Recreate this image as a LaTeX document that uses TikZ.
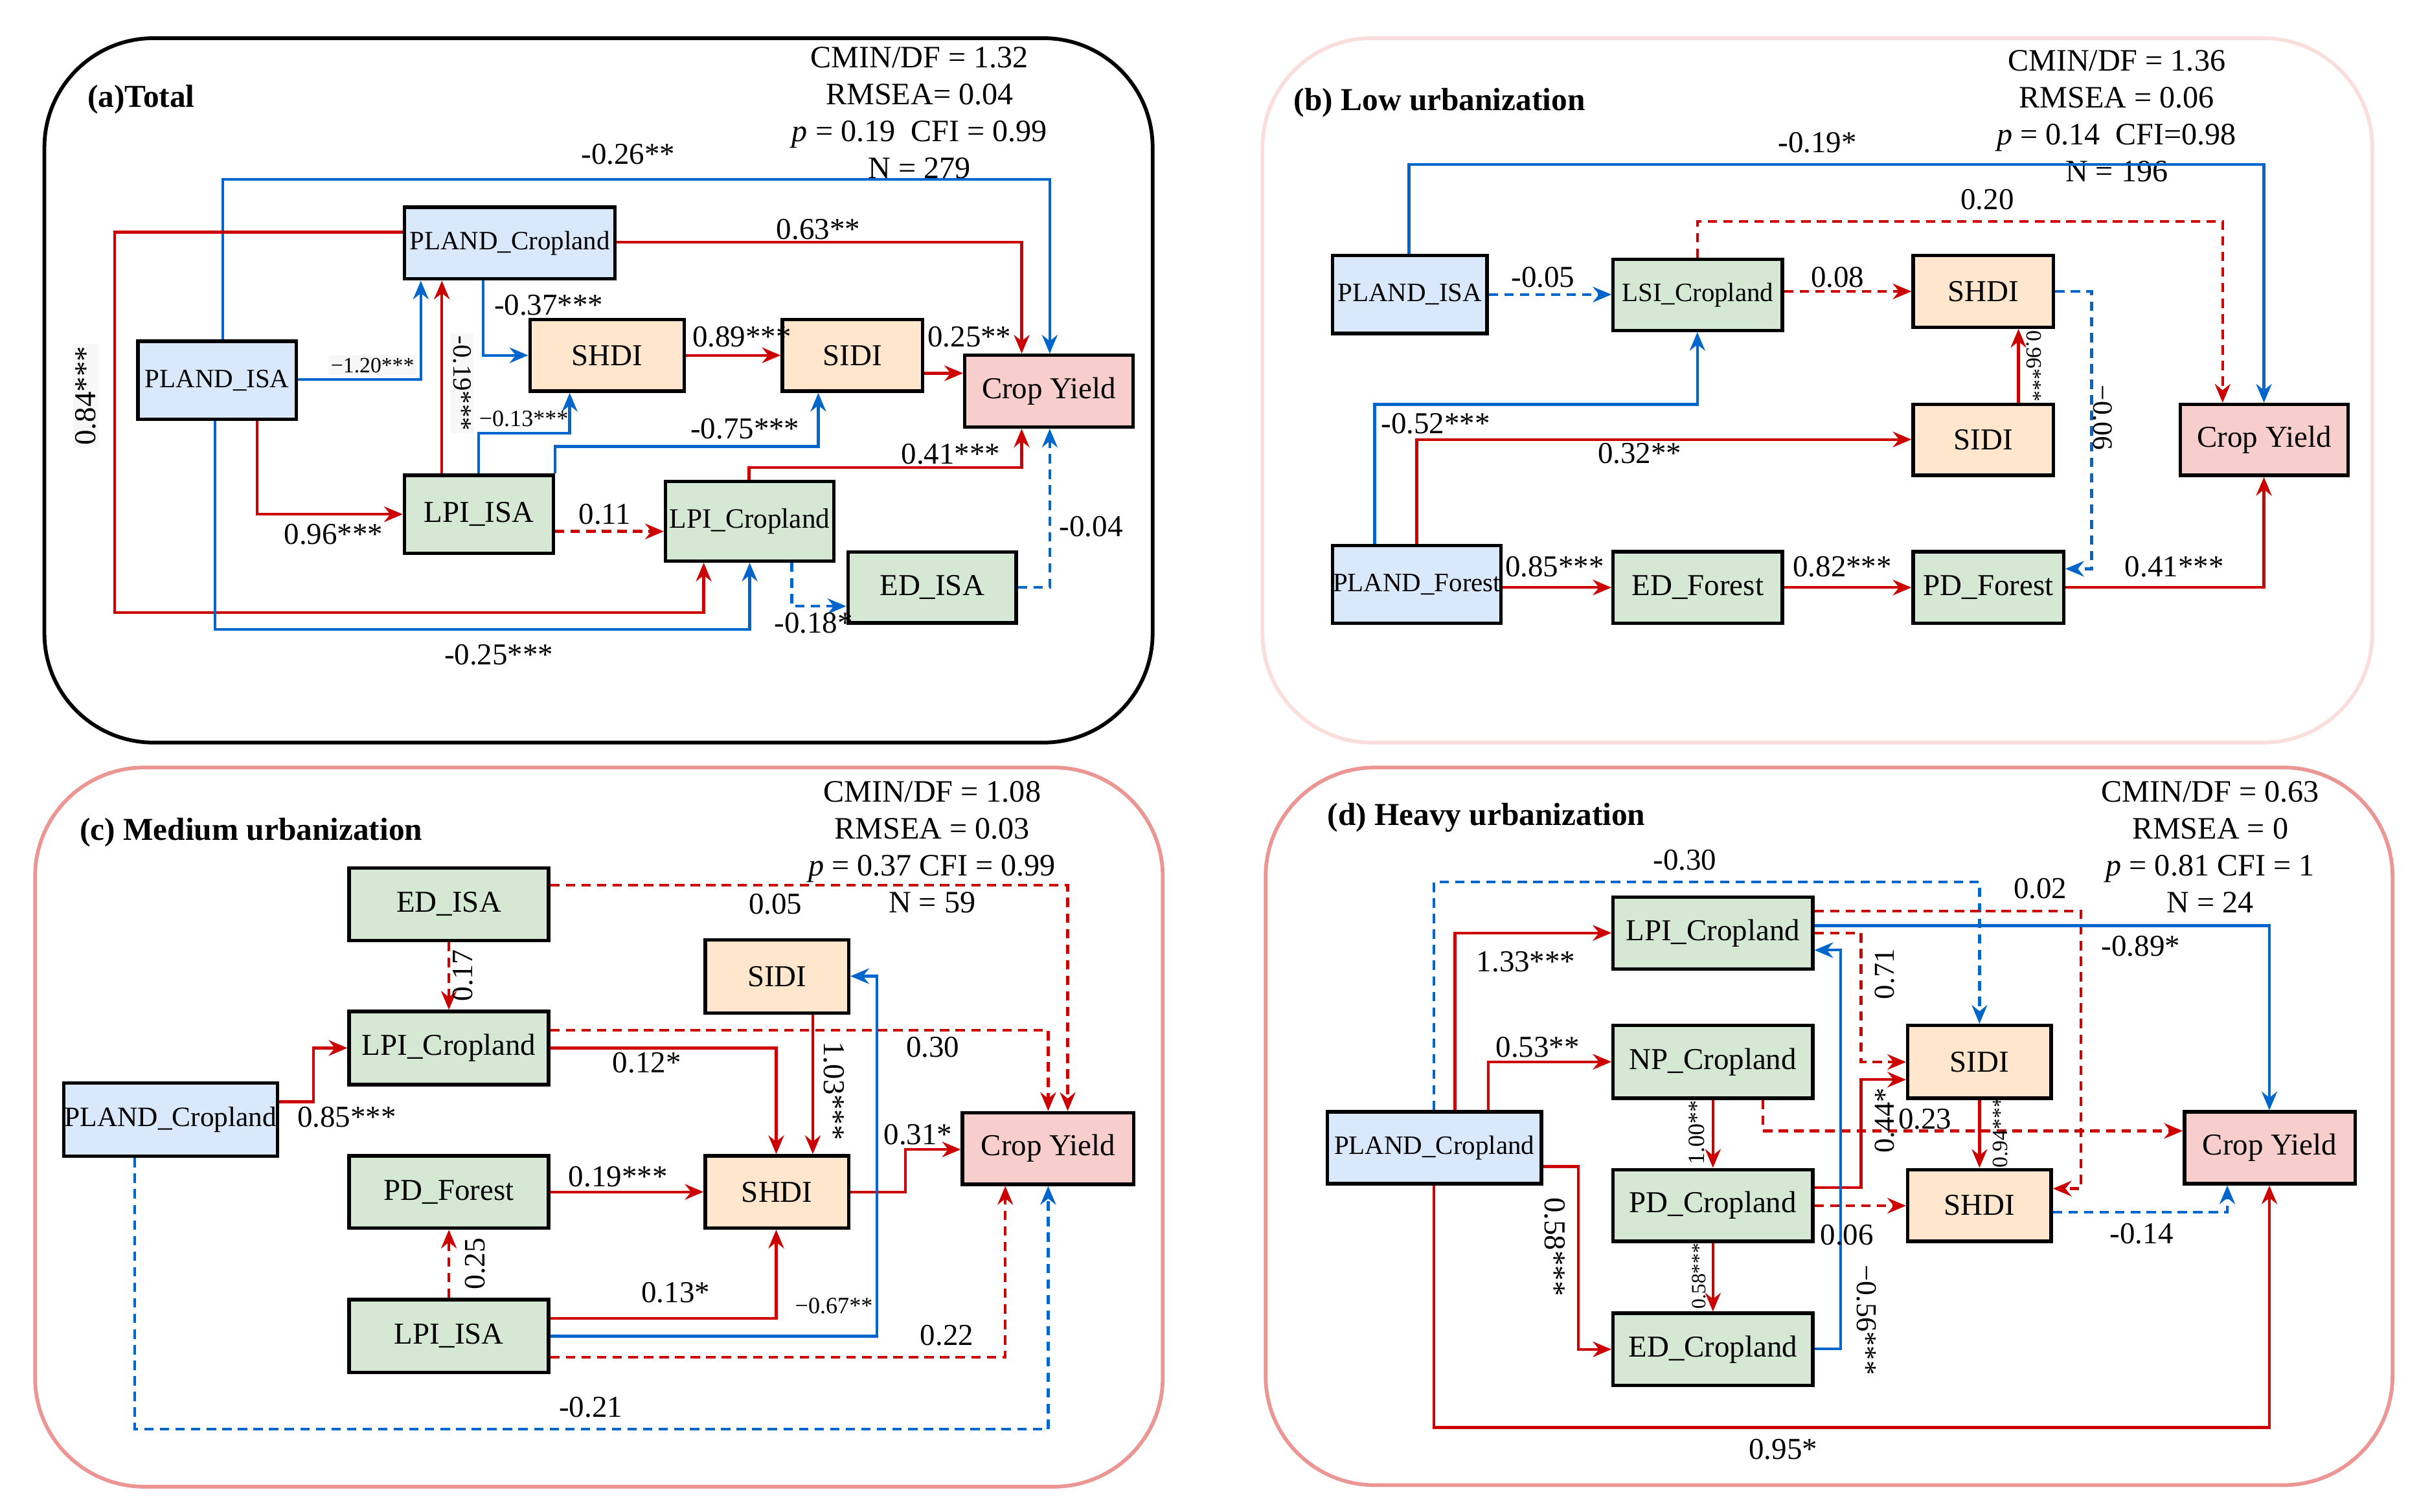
\documentclass[tikz,border=0pt]{standalone}
\usepackage{fontspec}
\setmainfont{Liberation Serif}
\usetikzlibrary{arrows.meta,calc}
\definecolor{fblue}{HTML}{DAE8FC}
\definecolor{fgreen}{HTML}{D5E8D4}
\definecolor{forange}{HTML}{FFE6CC}
\definecolor{fpink}{HTML}{F8CECC}
\definecolor{ered}{HTML}{CC0000}
\definecolor{eblue}{HTML}{0066CC}
\definecolor{pinkA}{RGB}{250,222,220}
\definecolor{pinkB}{RGB}{236,150,148}
\definecolor{lbg}{RGB}{247,247,247}
\tikzset{
  vbox/.style={draw=black,line width=2.2pt,inner sep=0pt,font=\fontsize{19.5}{22}\selectfont},
  sbox/.style={vbox,font=\fontsize{17}{20}\selectfont},
  mbox/.style={vbox,font=\fontsize{18}{21}\selectfont},
  bfill/.style={fill=fblue},gfill/.style={fill=fgreen},ofill/.style={fill=forange},pfill/.style={fill=fpink},
  rd/.style={draw=ered,line width=1.8pt,-{Stealth[length=12pt,width=10pt,inset=4pt]}},
  bl/.style={draw=eblue,line width=1.8pt,-{Stealth[length=12pt,width=10pt,inset=4pt]}},
  dsh/.style={dash pattern=on 6pt off 4pt},
  lab/.style={inner sep=0pt,font=\fontsize{19.5}{22}\selectfont},
  slab/.style={inner sep=0pt,font=\fontsize{14}{16}\selectfont},
  gbg/.style={fill=lbg,inner sep=1.5pt},
  stats/.style={align=center,inner sep=0pt,font=\fontsize{20}{23.7}\selectfont},
  ttl/.style={anchor=west,inner sep=0pt,font=\fontsize{20.5}{24}\selectfont\bfseries},
  panel/.style={line width=2.4pt,rounded corners=70pt},
}
\begin{document}
\begin{tikzpicture}[x=1pt,y=-1pt]
\useasboundingbox (0,0) rectangle (1552,970.25);
% panels
\draw[panel,draw=black] (28.5,24.5) rectangle (739.5,476.5);
\draw[panel,draw=pinkA] (810,24.5) rectangle (1522,476.5);
\draw[panel,draw=pinkB] (22.5,492.5) rectangle (746,954);
\draw[panel,draw=pinkB] (812,492.5) rectangle (1535,953);

%================ (a) =================
\node[ttl] (ta) at (56,64) {(a)Total};
\node[stats] (sa) at (590,72.5) {CMIN/DF = 1.32\\RMSEA= 0.04\\\textit{p} = 0.19~~CFI = 0.99\\N = 279};
\node[sbox,bfill,minimum width=135pt,minimum height=46pt] (pcropa) at (327,156) {PLAND\_Cropland};
\node[sbox,bfill,minimum width=101.5pt,minimum height=50pt] (pisaa) at (139.25,244) {PLAND\_ISA};
\node[vbox,ofill,minimum width=99pt,minimum height=46pt] (shdia) at (389.5,228) {SHDI};
\node[vbox,ofill,minimum width=90pt,minimum height=46pt] (sidia) at (547,228) {SIDI};
\node[vbox,pfill,minimum width=108pt,minimum height=46pt] (cya) at (673,251) {Crop Yield};
\node[vbox,gfill,minimum width=95.5pt,minimum height=50pt] (lisaa) at (307.25,330) {LPI\_ISA};
\node[mbox,gfill,minimum width=108pt,minimum height=51pt] (lcropa) at (481,334.5) {LPI\_Cropland};
\node[vbox,gfill,minimum width=108pt,minimum height=45.5pt] (edisaa) at (598,377) {ED\_ISA};

\draw[bl] (143,0 |- pisaa.north) -- (143,115) -| (673.5,0 |- cya.north);
\draw[rd] (pcropa.east |- 0,155.5) -| (655.5,0 |- cya.north);
\draw[rd] (pcropa.west |- 0,149) -- (73.5,149) |- (451.5,393) -- (451.5,0 |- lcropa.south);
\draw[bl] (pisaa.east |- 0,243.5) -| (270,0 |- pcropa.south);
\draw[rd] (283.5,0 |- lisaa.north) -- (283.5,0 |- pcropa.south);
\draw[bl] (310,0 |- pcropa.south) |- (shdia.west);
\draw[rd] (shdia.east) -- (sidia.west);
\draw[rd] (sidia.east |- 0,239.5) -- (cya.west |- 0,239.5);
\draw[bl] (307,0 |- lisaa.north) |- (365.5,278) -- (365.5,0 |- shdia.south);
\draw[bl] (lisaa.north east) |- (525,286.5) -- (525,0 |- sidia.south);
\draw[rd] (480.5,0 |- lcropa.north) |- (655.5,300) -- (655.5,0 |- cya.south);
\draw[rd] (165,0 |- pisaa.south) |- (lisaa.west);
\draw[rd,dsh] (lisaa.east |- 0,341) -- (lcropa.west |- 0,341);
\draw[bl] (138,0 |- pisaa.south) |- (481,404) -- (481,0 |- lcropa.south);
\draw[bl,dsh] (508,0 |- lcropa.south) |- (edisaa.west |- 0,389);
\draw[bl,dsh] (edisaa.east |- 0,377) -| (673.5,0 |- cya.south);

\node[lab] (a1) at (403,99) {-0.26**};
\node[lab] (a2) at (525,147) {0.63**};
\node[lab,gbg,rotate=90] (a3) at (55,254) {0.84***};
\node[slab,gbg] (a4) at (239,234.5) {−1.20***};
\node[lab,gbg,font=\fontsize{17}{20}\selectfont,rotate=-90] (a5) at (296.5,246) {-0.19***};
\node[lab] (a6) at (352,196) {-0.37***};
\node[lab] (a7) at (476,216) {0.89***};
\node[lab] (a8) at (622,216) {0.25**};
\node[slab,font=\fontsize{15}{17}\selectfont] (a9) at (336,268.6) {−0.13***};
\node[lab] (a10) at (478,275) {-0.75***};
\node[lab] (a11) at (610,291.5) {0.41***};
\node[lab] (a12) at (214,343) {0.96***};
\node[lab] (a13) at (388,330) {0.11};
\node[lab] (a14) at (320,420) {-0.25***};
\node[lab] (a15) at (522,400) {-0.18*};
\node[lab] (a16) at (700,338) {-0.04};

%================ (b) =================
\node[ttl] (tb) at (830,66) {(b) Low urbanization};
\node[stats] (sb) at (1358,74.5) {CMIN/DF = 1.36\\RMSEA = 0.06\\\textit{p} = 0.14~~CFI=0.98\\N = 196};
\node[sbox,bfill,minimum width=99pt,minimum height=50pt] (pisab) at (904.5,189) {PLAND\_ISA};
\node[sbox,gfill,minimum width=108.5pt,minimum height=45.5pt] (lsib) at (1089.25,189.25) {LSI\_Cropland};
\node[vbox,ofill,minimum width=90pt,minimum height=46pt] (shdib) at (1272.5,187) {SHDI};
\node[vbox,ofill,minimum width=90pt,minimum height=45.5pt] (sidib) at (1272.5,282.25) {SIDI};
\node[vbox,pfill,minimum width=107.5pt,minimum height=45.5pt] (cyb) at (1452.75,282.25) {Crop Yield};
\node[sbox,bfill,minimum width=108pt,minimum height=50pt] (pforb) at (909,375) {PLAND\_Forest};
\node[vbox,gfill,minimum width=108.5pt,minimum height=46pt] (edforb) at (1089.25,377) {ED\_Forest};
\node[vbox,gfill,minimum width=96.5pt,minimum height=46pt] (pdforb) at (1275.75,377) {PD\_Forest};

\draw[bl] (904,0 |- pisab.north) |- (1452.5,105.6) -- (1452.5,0 |- cyb.north);
\draw[rd,dsh] (1089,0 |- lsib.north) |- (1426,142) -- (1426,0 |- cyb.north);
\draw[bl,dsh] (pisab.east |- 0,189) -- (lsib.west |- 0,189);
\draw[rd,dsh] (lsib.east |- 0,187) -- (shdib.west |- 0,187);
\draw[bl,dsh] (shdib.east |- 0,187) -| (1342,365) -- (pdforb.east |- 0,365);
\draw[rd] (1295,0 |- sidib.north) -- (1295,0 |- shdib.south);
\draw[bl] (882,0 |- pforb.north) |- (1089,259.5) -- (1089,0 |- lsib.south);
\draw[rd] (909,0 |- pforb.north) |- (sidib.west |- 0,282);
\draw[rd] (pforb.east |- 0,377) -- (edforb.west |- 0,377);
\draw[rd] (edforb.east |- 0,377) -- (pdforb.west |- 0,377);
\draw[rd] (pdforb.east |- 0,377) -| (1452.5,0 |- cyb.south);

\node[lab] (b1) at (1166,91.5) {-0.19*};
\node[lab] (b2) at (1275,128) {0.20};
\node[lab] (b3) at (990,178) {-0.05};
\node[lab] (b4) at (1179,178) {0.08};
\node[lab,font=\fontsize{18}{20}\selectfont,rotate=-90] (b5) at (1349,268) {−0.06};
\node[slab,rotate=-90] (b6) at (1305,235) {0.96***};
\node[lab] (b7) at (921,272) {-0.52***};
\node[lab] (b8) at (1052,291) {0.32**};
\node[lab] (b9) at (997.5,363.6) {0.85***};
\node[lab] (b10) at (1182,363.6) {0.82***};
\node[lab] (b11) at (1395,363.6) {0.41***};

%================ (c) =================
\node[ttl] (tc) at (51,534) {(c) Medium urbanization};
\node[stats] (sc) at (598,543.5) {CMIN/DF = 1.08\\RMSEA = 0.03\\\textit{p} = 0.37 CFI = 0.99\\N = 59};
\node[vbox,gfill,minimum width=128pt,minimum height=46.5pt] (edisac) at (288,580.25) {ED\_ISA};
\node[vbox,gfill,minimum width=128pt,minimum height=47pt] (lcropc) at (288,672.5) {LPI\_Cropland};
\node[mbox,bfill,minimum width=137pt,minimum height=47pt] (pcropc) at (109.5,718.5) {PLAND\_Cropland};
\node[vbox,gfill,minimum width=128pt,minimum height=46.3pt] (pdforc) at (288,764.85) {PD\_Forest};
\node[vbox,gfill,minimum width=128pt,minimum height=46.6pt] (lisac) at (288,857.3) {LPI\_ISA};
\node[vbox,ofill,minimum width=92pt,minimum height=47pt] (sidic) at (498.5,626.5) {SIDI};
\node[vbox,ofill,minimum width=92pt,minimum height=46.3pt] (shdic) at (498.5,764.85) {SHDI};
\node[vbox,pfill,minimum width=110pt,minimum height=46pt] (cyc) at (672.5,737) {Crop Yield};

\draw[rd,dsh] (edisac.east |- 0,568) -| (685,0 |- cyc.north);
\draw[rd,dsh] (edisac.south) -- (lcropc.north);
\draw[rd,dsh] (lcropc.east |- 0,661) -| (672.5,0 |- cyc.north);
\draw[rd] (lcropc.east |- 0,672.5) -| (498,0 |- shdic.north);
\draw[rd] (521.5,0 |- sidic.south) -- (521.5,0 |- shdic.north);
\draw[rd] (pcropc.east |- 0,707) -- (201,707) |- (lcropc.west);
\draw[rd] (pdforc.east) -- (shdic.west);
\draw[rd] (shdic.east |- 0,765) -- (581,765) |- (cyc.west |- 0,737.6);
\draw[rd,dsh] (lisac.north) -- (pdforc.south);
\draw[rd] (lisac.east |- 0,846) -| (498,0 |- shdic.south);
\draw[bl] (lisac.east |- 0,857.4) -| (562.5,626.4) -- (sidic.east |- 0,626.4);
\draw[rd,dsh] (lisac.east |- 0,871) -| (645,0 |- cyc.south);
\draw[bl,dsh] (86.5,0 |- pcropc.south) |- (672.5,917) -- (672.5,0 |- cyc.south);

\node[lab] (c1) at (497.5,580) {0.05};
\node[lab,font=\fontsize{19}{21}\selectfont,rotate=90] (c2) at (297,626) {0.17};
\node[lab] (c3) at (598.5,672) {0.30};
\node[lab] (c4) at (415,682) {0.12*};
\node[lab,rotate=-90] (c5) at (535,700) {1.03***};
\node[lab] (c6) at (222.5,717) {0.85***};
\node[lab] (c7) at (396.5,755) {0.19***};
\node[lab] (c8) at (589,728) {0.31*};
\node[lab,font=\fontsize{19}{21}\selectfont,rotate=90] (c9) at (305,811) {0.25};
\node[lab] (c10) at (433.5,829.5) {0.13*};
\node[slab,font=\fontsize{15}{17}\selectfont] (c11) at (535,838) {−0.67**};
\node[lab] (c12) at (607.5,856.8) {0.22};
\node[lab] (c13) at (379,903) {-0.21};

%================ (d) =================
\node[ttl] (td) at (851.5,524.5) {(d) Heavy urbanization};
\node[stats] (sd) at (1418,543.5) {CMIN/DF = 0.63\\RMSEA = 0\\\textit{p} = 0.81 CFI = 1\\N = 24};
\node[vbox,gfill,minimum width=128pt,minimum height=46.1pt] (lcropd) at (1099,598.65) {LPI\_Cropland};
\node[vbox,gfill,minimum width=128pt,minimum height=46.7pt] (npcropd) at (1099,681.35) {NP\_Cropland};
\node[vbox,gfill,minimum width=128pt,minimum height=46.1pt] (pdcropd) at (1099,773.55) {PD\_Cropland};
\node[vbox,gfill,minimum width=128pt,minimum height=46.3pt] (edcropd) at (1099,865.85) {ED\_Cropland};
\node[sbox,bfill,minimum width=137.5pt,minimum height=46.1pt] (pcropd) at (920.25,736.55) {PLAND\_Cropland};
\node[vbox,ofill,minimum width=92pt,minimum height=46.7pt] (sidid) at (1270,681.35) {SIDI};
\node[vbox,ofill,minimum width=92pt,minimum height=46.1pt] (shdid) at (1270,773.55) {SHDI};
\node[vbox,pfill,minimum width=109.5pt,minimum height=46.1pt] (cyd) at (1456.25,736.55) {Crop Yield};

\draw[bl,dsh] (920,0 |- pcropd.north) |- (1270,566) -- (1270,0 |- sidid.north);
\draw[rd] (933.5,0 |- pcropd.north) |- (lcropd.west);
\draw[rd] (955,0 |- pcropd.north) |- (npcropd.west);
\draw[rd] (pcropd.east |- 0,748.6) -- (1012.5,748.6) |- (edcropd.west);
\draw[rd] (920,0 |- pcropd.south) |- (1456,916) -- (1456,0 |- cyd.south);
\draw[rd,dsh] (lcropd.east |- 0,584.7) -- (1335,584.7) |- (shdid.east |- 0,762.7);
\draw[bl] (lcropd.east |- 0,594) -| (1456,0 |- cyd.north);
\draw[rd,dsh] (lcropd.east |- 0,598.8) -- (1194,598.8) |- (sidid.west |- 0,681.5);
\draw[rd] (npcropd.south) -- (pdcropd.north);
\draw[rd,dsh] (1131,0 |- npcropd.south) |- (cyd.west |- 0,725.7);
\draw[rd] (pdcropd.east |- 0,762) -- (1194,762) |- (sidid.west |- 0,692.8);
\draw[rd,dsh] (pdcropd.east |- 0,773.7) -- (shdid.west |- 0,773.7);
\draw[rd] (pdcropd.south) -- (edcropd.north);
\draw[bl] (edcropd.east |- 0,865.5) -- (1181,865.5) |- (lcropd.east |- 0,609.7);
\draw[rd] (sidid.south) -- (shdid.north);
\draw[bl,dsh] (shdid.east |- 0,777.8) -| (1429,0 |- cyd.south);

\node[lab] (d1) at (1081,552) {-0.30};
\node[lab] (d2) at (979,617) {1.33***};
\node[lab] (d3) at (986.5,672) {0.53**};
\node[lab,rotate=-90] (d4) at (997.5,800) {0.58***};
\node[lab] (d5) at (1144,930) {0.95*};
\node[lab] (d6) at (1309,570) {0.02};
\node[lab] (d7) at (1373.5,607) {-0.89*};
\node[lab,font=\fontsize{18.5}{21}\selectfont,rotate=90] (d8) at (1209,625) {0.71};
\node[slab,font=\fontsize{15}{17}\selectfont,rotate=90] (d9) at (1088.5,726.7) {1.00**};
\node[lab] (d10) at (1235,718) {0.23};
\node[lab,font=\fontsize{18.5}{21}\selectfont,rotate=90] (d11) at (1209,719) {0.44*};
\node[lab] (d12) at (1185,792.5) {0.06};
\node[slab,font=\fontsize{13}{15}\selectfont,rotate=90] (d13) at (1090,819) {0.58***};
\node[lab,font=\fontsize{18.5}{21}\selectfont,rotate=-90] (d14) at (1197.5,847) {−0.56***};
\node[slab,rotate=90] (d15) at (1283.5,726.7) {0.94***};
\node[lab] (d16) at (1374,791.6) {-0.14};
\end{tikzpicture}
\end{document}
